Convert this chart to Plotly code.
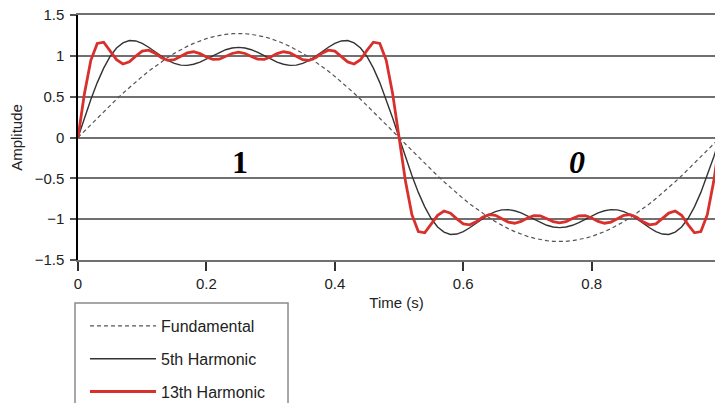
import plotly.graph_objects as go

time_s = [i / 100 for i in range(101)]

fundamental = [
    0, 0.080, 0.160, 0.239, 0.317, 0.393, 0.469, 0.542, 0.613, 0.682,
    0.748, 0.812, 0.872, 0.928, 0.981, 1.030, 1.075, 1.116, 1.152, 1.184,
    1.211, 1.233, 1.251, 1.263, 1.271, 1.273, 1.271, 1.263, 1.251, 1.233,
    1.211, 1.184, 1.152, 1.116, 1.075, 1.030, 0.981, 0.928, 0.872, 0.812,
    0.748, 0.682, 0.613, 0.542, 0.469, 0.393, 0.317, 0.239, 0.160, 0.080,
    0,
    -0.080, -0.160, -0.239, -0.317, -0.393, -0.469, -0.542, -0.613, -0.682, -0.748,
    -0.812, -0.872, -0.928, -0.981, -1.030, -1.075, -1.116, -1.152, -1.184, -1.211,
    -1.233, -1.251, -1.263, -1.271, -1.273, -1.271, -1.263, -1.251, -1.233, -1.211,
    -1.184, -1.152, -1.116, -1.075, -1.030, -0.981, -0.928, -0.872, -0.812, -0.748,
    -0.682, -0.613, -0.542, -0.469, -0.393, -0.317, -0.239, -0.160, -0.080, 0,
]

harmonic_5 = [
    0, 0.238, 0.466, 0.672, 0.849, 0.992, 1.095, 1.159, 1.187, 1.182,
    1.152, 1.105, 1.049, 0.993, 0.943, 0.907, 0.886, 0.883, 0.897, 0.924,
    0.962, 1.003, 1.042, 1.075, 1.096, 1.104, 1.096, 1.075, 1.042, 1.003,
    0.962, 0.924, 0.897, 0.883, 0.886, 0.907, 0.943, 0.993, 1.049, 1.105,
    1.152, 1.182, 1.187, 1.159, 1.095, 0.992, 0.849, 0.672, 0.466, 0.238,
    0,
    -0.238, -0.466, -0.672, -0.849, -0.992, -1.095, -1.159, -1.187, -1.182, -1.152,
    -1.105, -1.049, -0.993, -0.943, -0.907, -0.886, -0.883, -0.897, -0.924, -0.962,
    -1.003, -1.042, -1.075, -1.096, -1.104, -1.096, -1.075, -1.042, -1.003, -0.962,
    -0.924, -0.897, -0.883, -0.886, -0.907, -0.943, -0.993, -1.049, -1.105, -1.152,
    -1.182, -1.187, -1.159, -1.095, -0.992, -0.849, -0.672, -0.466, -0.238, 0,
]

harmonic_13 = [
    0, 0.537, 0.945, 1.152, 1.167, 1.067, 0.953, 0.900, 0.926, 0.996,
    1.057, 1.069, 1.032, 0.977, 0.944, 0.953, 0.994, 1.036, 1.050, 1.027,
    0.986, 0.957, 0.959, 0.991, 1.029, 1.045, 1.029, 0.991, 0.959, 0.957,
    0.986, 1.027, 1.050, 1.036, 0.994, 0.953, 0.944, 0.977, 1.032, 1.069,
    1.057, 0.996, 0.926, 0.900, 0.953, 1.067, 1.167, 1.152, 0.945, 0.537,
    0,
    -0.537, -0.945, -1.152, -1.167, -1.067, -0.953, -0.900, -0.926, -0.996, -1.057,
    -1.069, -1.032, -0.977, -0.944, -0.953, -0.994, -1.036, -1.050, -1.027, -0.986,
    -0.957, -0.959, -0.991, -1.029, -1.045, -1.029, -0.991, -0.959, -0.957, -0.986,
    -1.027, -1.050, -1.036, -0.994, -0.953, -0.944, -0.977, -1.032, -1.069, -1.057,
    -0.996, -0.926, -0.900, -0.953, -1.067, -1.167, -1.152, -0.945, -0.537, 0,
]

x_ticks = [0, 0.2, 0.4, 0.6, 0.8]
x_tick_labels = ["0", "0.2", "0.4", "0.6", "0.8"]
y_ticks = [-1.5, -1, -0.5, 0, 0.5, 1, 1.5]
y_tick_labels = ["\u22121.5", "\u22121", "\u22120.5", "0", "0.5", "1", "1.5"]

FONT = "Liberation Sans, Arial, sans-serif"
GRID = "#707070"

fig = go.Figure()
fig.add_trace(go.Scatter(
    x=time_s, y=fundamental, mode="lines", name="Fundamental",
    legendgroup="a",
    line=dict(color="#555555", width=1.2, dash="4px,3px"),
))
fig.add_trace(go.Scatter(
    x=time_s, y=harmonic_5, mode="lines", name="5th Harmonic",
    legendgroup="b",
    line=dict(color="#333333", width=1.4),
))
fig.add_trace(go.Scatter(
    x=time_s, y=harmonic_13, mode="lines", name="13th Harmonic",
    legendgroup="c",
    line=dict(color="#d8302c", width=2.8),
))

fig.add_annotation(x=0.253, y=-0.3, text="1", showarrow=False,
                   font=dict(family="Liberation Serif", size=32, color="black", weight="bold"))
fig.add_annotation(x=0.777, y=-0.3, text="0", showarrow=False,
                   font=dict(family="Liberation Serif", size=32, color="black", weight="bold",
                             style="italic"))

# legend frame (open at the bottom, running past the page edge)
fig.add_shape(type="rect", xref="paper", yref="paper",
              x0=-0.0047, x1=0.3297, y0=-0.1755, y1=-0.75,
              line=dict(color="#8a8a8a", width=1.5), fillcolor="rgba(0,0,0,0)",
              layer="below")

fig.update_layout(
    width=715, height=403,
    margin=dict(l=78, r=0, t=15, b=143, autoexpand=False),
    paper_bgcolor="white", plot_bgcolor="white",
    font=dict(family=FONT, size=15, color="#222222"),
    showlegend=True,
    legend=dict(
        x=0.011, xanchor="left", y=-0.2, yanchor="top",
        borderwidth=0, bgcolor="rgba(0,0,0,0)",
        font=dict(family=FONT, size=16, color="#222222"),
        traceorder="grouped", tracegroupgap=9, itemwidth=66,
    ),
    xaxis=dict(
        range=[0, 0.992], showgrid=False, zeroline=False,
        showline=True, linecolor=GRID, linewidth=2.2, mirror=True,
        tickmode="array", tickvals=x_ticks, ticktext=x_tick_labels,
        ticks="outside", ticklen=9, tickwidth=1.5, tickcolor="#333333",
        title=dict(text="Time (s)", standoff=6, font=dict(size=15)),
        tickfont=dict(size=15),
    ),
    yaxis=dict(
        range=[-1.5, 1.5], showgrid=True, gridcolor=GRID, gridwidth=2.2,
        zeroline=True, zerolinecolor=GRID, zerolinewidth=2.2,
        showline=True, linecolor="black", linewidth=1.5,
        tickmode="array", tickvals=y_ticks, ticktext=y_tick_labels,
        ticks="outside", ticklen=6, tickwidth=1.5, tickcolor="#555555",
        ticklabelstandoff=3,
        title=dict(text="Amplitude", standoff=8, font=dict(size=15)),
        tickfont=dict(size=15),
    ),
)

fig.write_html("out.html")
